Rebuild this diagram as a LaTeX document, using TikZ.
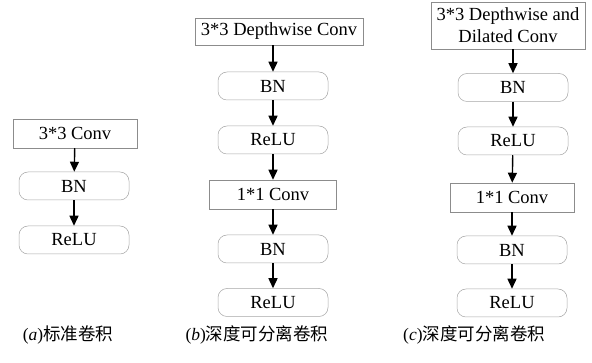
\documentclass[tikz,border=0pt]{standalone}
\usepackage{fontspec}
\setmainfont{Liberation Serif}
\newfontfamily\cjk{Noto Sans CJK SC}
\usetikzlibrary{arrows.meta}

\tikzset{
  convbox/.style={draw=black!45, line width=0.5pt, inner sep=0pt, align=center,
    font=\fontsize{18.5}{22}\selectfont},
  bnbox/.style={draw=black!35, line width=0.5pt, rounded corners=9pt, inner sep=0pt,
    minimum width=110pt, minimum height=28pt, font=\fontsize{18.5}{22}\selectfont},
  flow/.style={line width=1.4pt, -{Triangle[length=10pt,width=9pt]}},
  caption/.style={font=\fontsize{17.5}{20}\selectfont}
}

\begin{document}
\begin{tikzpicture}[x=1pt,y=-1pt]
\useasboundingbox (0,0) rectangle (592,363);

% (a) standard convolution
\node[convbox, minimum width=124pt, minimum height=29pt] (a1) at (75,133.5) {3*3 Conv};
\node[bnbox] (a2) at (74,186) {BN};
\node[bnbox] (a3) at (74,240) {ReLU};

\draw[flow] (a1) -- (a2);
\draw[flow] (a2) -- (a3);

% (b) depthwise separable convolution
\node[convbox, minimum width=168pt, minimum height=27pt] (b1) at (279,31.5) {3*3 Depthwise Conv};
\node[bnbox] (b2) at (273,86) {BN};
\node[bnbox] (b3) at (273,140) {ReLU};
\node[convbox, minimum width=127pt, minimum height=29pt] (b4) at (273,194.5) {1*1 Conv};
\node[bnbox] (b5) at (273,249) {BN};
\node[bnbox] (b6) at (273,302.5) {ReLU};

\draw[flow] (b1.south -| b2) -- (b2);
\draw[flow] (b2) -- (b3);
\draw[flow] (b3) -- (b4);
\draw[flow] (b4) -- (b5);
\draw[flow] (b5) -- (b6);

% (c) depthwise separable with dilation
\node[convbox, minimum width=154pt, minimum height=47pt] (c1) at (508,25.5) {3*3 Depthwise and\\Dilated Conv};
\node[bnbox] (c2) at (513,87.5) {BN};
\node[bnbox] (c3) at (513,141) {ReLU};
\node[convbox, minimum width=124pt, minimum height=29pt] (c4) at (512,197.5) {1*1 Conv};
\node[bnbox] (c5) at (512,250) {BN};
\node[bnbox] (c6) at (512,303) {ReLU};

\draw[flow] (c1.south -| c2) -- (c2);
\draw[flow] (c2) -- (c3);
\draw[flow] (c3) -- (c4);
\draw[flow] (c4) -- (c5);
\draw[flow] (c5) -- (c6);

% captions
\node[caption] (capa) at (68,335) {(\textit{a})\cjk 标准卷积};
\node[caption] (capb) at (257,335) {(\textit{b})\cjk 深度可分离卷积};
\node[caption, anchor=west, inner sep=0pt] (capc) at (403,335) {(\textit{c})\cjk 深度可分离卷积};
\end{tikzpicture}
\end{document}
